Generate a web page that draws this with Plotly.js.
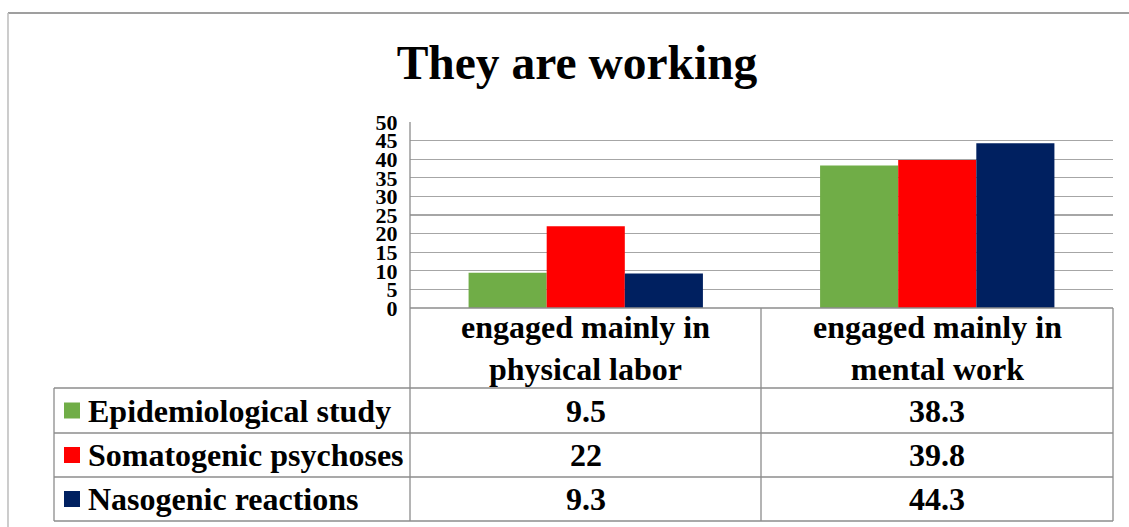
<!DOCTYPE html>
<html>
<head>
<meta charset="utf-8">
<script src="https://cdn.plot.ly/plotly-3.0.1.min.js"></script>
<style>html,body{margin:0;padding:0;background:#fff;}#chart{width:1129px;height:527px;}</style>
</head>
<body>
<div id="chart"></div>
<script>
// ---- data ----
const categories = ['engaged mainly in physical labor', 'engaged mainly in mental work'];
const categoryLabels = ['engaged mainly in<br>physical labor', 'engaged mainly in<br>mental work'];
const seriesNames = ['Epidemiological study', 'Somatogenic psychoses', 'Nasogenic reactions'];
const epidemiologicalStudy = [9.5, 38.3];
const somatogenicPsychoses = [22, 39.8];
const nasogenicReactions = [9.3, 44.3];
const seriesValues = [epidemiologicalStudy, somatogenicPsychoses, nasogenicReactions];
const seriesColors = ['#70AD47', '#FF0000', '#002060'];
const yTicks = [0, 5, 10, 15, 20, 25, 30, 35, 40, 45, 50];

// ---- layout geometry (pixels) ----
const FW = 1129, FH = 527;
const L = 410, R = 1113, T = 122, B = 308;
const PW = R - L, PH = B - T;
const px = x => (x - L) / PW;
const py = y => (B - y) / PH;
const FONT = 'Liberation Serif, Times New Roman, serif';
const GRID = '#a6a6a6';
const BORDER = '#8c8c8c';
const TABLE_FONT = 32;

const traces = seriesNames.map((name, i) => ({
  type: 'bar',
  name: name,
  x: categories,
  y: seriesValues[i],
  marker: {color: seriesColors[i], line: {width: 0}},
  hoverinfo: 'x+y+name'
}));

// table geometry
const headerTop = 308, headerBottom = 388;
const rowBounds = [388, 433, 477, 521];
const legendLeft = 54;
const colDivider = 761;

const shapes = [];
function hline(y, x0, x1, color, w) {
  shapes.push({type: 'line', xref: 'paper', yref: 'paper', x0: px(x0), x1: px(x1), y0: py(y), y1: py(y), line: {color: color || BORDER, width: w || 1.3}});
}
function vline(x, y0, y1, color, w) {
  shapes.push({type: 'line', xref: 'paper', yref: 'paper', x0: px(x), x1: px(x), y0: py(y0), y1: py(y1), line: {color: color || BORDER, width: w || 1.3}});
}
// outer chart frame
hline(13, 8, FW + 5, '#7f7f7f', 1.6);
vline(8, 13, FH + 5, '#c0c0c0', 1.6);
// table
hline(headerTop, L, R);
rowBounds.forEach(y => hline(y, legendLeft, R));
vline(L, T, rowBounds[3]);
vline(colDivider, headerTop, rowBounds[3]);
vline(R, headerTop, rowBounds[3]);
vline(legendLeft, rowBounds[0], rowBounds[3]);

const annotations = [];
// header labels
categoryLabels.forEach((lab, i) => {
  annotations.push({xref: 'x', yref: 'paper', x: i, y: py((headerTop + headerBottom) / 2),
    text: '<b>' + lab + '</b>', showarrow: false, xanchor: 'center', yanchor: 'middle',
    font: {family: FONT, size: TABLE_FONT, color: '#000'}});
});
// rows
seriesNames.forEach((name, s) => {
  const yc = (rowBounds[s] + rowBounds[s + 1]) / 2;
  shapes.push({type: 'rect', xref: 'paper', yref: 'paper', x0: px(64), x1: px(80), y0: py(yc - 8), y1: py(yc + 8),
    fillcolor: seriesColors[s], line: {width: 0}});
  annotations.push({xref: 'paper', yref: 'paper', x: px(86), y: py(yc), text: '<b>' + name + '</b>',
    showarrow: false, xanchor: 'left', yanchor: 'middle', font: {family: FONT, size: TABLE_FONT, color: '#000'}});
  categories.forEach((c, i) => {
    annotations.push({xref: 'x', yref: 'paper', x: i, y: py(yc), text: '<b>' + seriesValues[s][i] + '</b>',
      showarrow: false, xanchor: 'center', yanchor: 'middle', font: {family: FONT, size: TABLE_FONT, color: '#000'}});
  });
});

const layout = {
  width: FW, height: FH,
  margin: {l: L, r: FW - R, t: T, b: FH - B, pad: 0},
  paper_bgcolor: '#ffffff', plot_bgcolor: '#ffffff',
  title: {text: '<b>They are working</b>', xref: 'container', yref: 'container', x: 577 / FW, xanchor: 'center',
    y: 1 - 62 / FH, yanchor: 'middle', font: {family: FONT, size: 47.5, color: '#000'}},
  showlegend: false,
  barmode: 'group', bargap: 1 / 3, bargroupgap: 0,
  xaxis: {type: 'category', range: [-0.5, 1.5], showticklabels: false, showgrid: false, zeroline: false, showline: false, ticks: ''},
  yaxis: {range: [0, 50], tickvals: yTicks, ticktext: yTicks.map(String), showgrid: true, gridcolor: GRID, gridwidth: 1.3,
    zeroline: false, showline: false, ticks: 'outside', ticklen: 0, ticklabelstandoff: 7,
    tickfont: {family: FONT, size: 22, color: '#000', weight: 'bold'}},
  shapes: shapes,
  annotations: annotations
};

Plotly.newPlot('chart', traces, layout, {displayModeBar: false, staticPlot: true});
</script>
</body>
</html>
